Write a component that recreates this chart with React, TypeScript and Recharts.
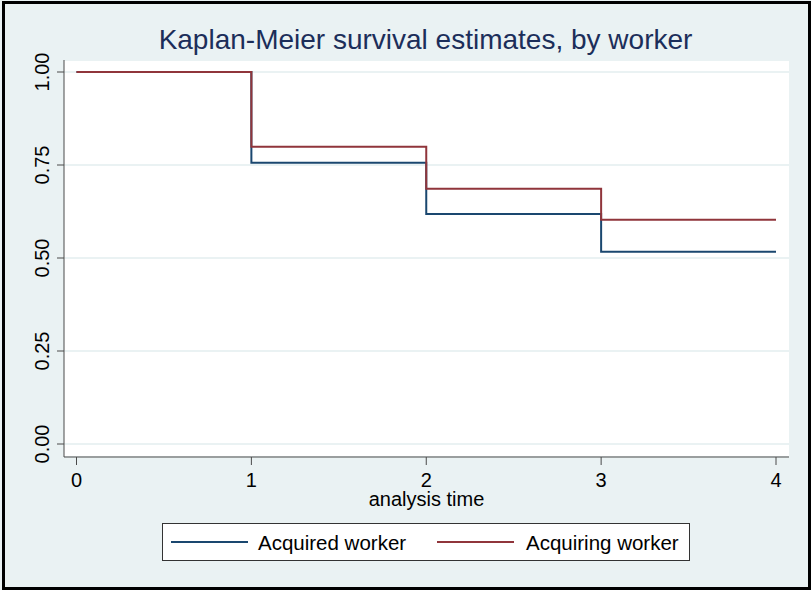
import { LineChart, Line, XAxis, YAxis, CartesianGrid, Legend } from "recharts";

// Kaplan-Meier step estimates
const times = [0, 1, 2, 3, 4];
const acquired = [1, 0.756, 0.618, 0.517, 0.517];
const acquiring = [1, 0.799, 0.686, 0.603, 0.603];

const xTicks = [0, 1, 2, 3, 4];
const yTicks = [0, 0.25, 0.5, 0.75, 1];

const seriesKeys = ["acquired", "acquiring"];
const seriesNames = ["Acquired worker", "Acquiring worker"];
const seriesColors = ["#1a476f", "#90353b"];

const data = times.map((t, i) => ({ t, acquired: acquired[i], acquiring: acquiring[i] }));

const FONT = "'Liberation Sans', Arial, Helvetica, sans-serif";
const BG = "#eaf2f3";
const AXIS = "#4a4a4a";

function YTick({ x, y, payload }: any) {
  return (
    <text
      x={x}
      y={y}
      transform={`rotate(-90 ${x} ${y})`}
      textAnchor="middle"
      fontSize={20}
      fontFamily={FONT}
      fill="#000"
    >
      {Number(payload.value).toFixed(2)}
    </text>
  );
}

function XTick({ x, y, payload }: any) {
  return (
    <text x={x} y={y + 20} textAnchor="middle" fontSize={20} fontFamily={FONT} fill="#000">
      {payload.value}
    </text>
  );
}

function XLabel({ viewBox }: any) {
  return (
    <text
      x={viewBox.x + viewBox.width / 2}
      y={viewBox.y + 49}
      textAnchor="middle"
      fontSize={20}
      fontFamily={FONT}
      fill="#000"
    >
      analysis time
    </text>
  );
}

function LegendBox() {
  return (
    <div
      style={{
        position: "relative",
        width: 528,
        height: 38,
        boxSizing: "border-box",
        border: "1px solid #333",
        background: "#fff",
        fontFamily: FONT,
        fontSize: 20.5,
        color: "#000",
      }}
    >
      {seriesNames.map((name, i) => (
        <div
          key={name}
          style={{
            position: "absolute",
            left: i === 0 ? 8 : 274,
            top: 0,
            height: 36,
            display: "flex",
            alignItems: "center",
            whiteSpace: "nowrap",
          }}
        >
          <span style={{ display: "inline-block", width: 77, height: 2, background: seriesColors[i] }} />
          <span style={{ marginLeft: i === 0 ? 10 : 12, lineHeight: "20px", position: "relative", top: 1 }}>
            {name}
          </span>
        </div>
      ))}
    </div>
  );
}

export default function App() {
  return (
    <div style={{ position: "absolute", left: 0, top: 0, width: 811, height: 590, background: BG }}>
      <div
        style={{
          position: "absolute",
          left: 2,
          top: 1,
          width: 809,
          height: 589,
          boxSizing: "border-box",
          border: "3px solid #000",
        }}
      />
      <div
        style={{
          position: "absolute",
          left: 0,
          width: 851,
          top: 26,
          textAlign: "center",
          fontFamily: FONT,
          fontSize: 28,
          lineHeight: "28px",
          color: "#1c2e5a",
          whiteSpace: "nowrap",
        }}
      >
        Kaplan-Meier survival estimates, by worker
      </div>
      <div style={{ position: "absolute", left: 0, top: 0 }}>
        <LineChart width={811} height={590} data={data} margin={{ top: 60, right: 22, bottom: 103, left: 4 }}>
          <CartesianGrid horizontal vertical={false} stroke={BG} strokeWidth={2} fill="#fff" />
          <XAxis
            dataKey="t"
            type="number"
            domain={[0, 4]}
            ticks={xTicks}
            padding={{ left: 12.5, right: 13 }}
            height={30}
            tickSize={8}
            tickMargin={2}
            tick={<XTick />}
            axisLine={{ stroke: AXIS }}
            tickLine={{ stroke: AXIS }}
            label={<XLabel />}
          />
          <YAxis
            type="number"
            domain={[0, 1]}
            ticks={yTicks}
            padding={{ top: 12, bottom: 13 }}
            width={60}
            tickSize={7}
            tickMargin={8}
            tick={<YTick />}
            axisLine={{ stroke: AXIS }}
            tickLine={{ stroke: AXIS }}
          />
          {seriesKeys.map((k, i) => (
            <Line
              key={k}
              type="stepAfter"
              dataKey={k}
              name={seriesNames[i]}
              stroke={seriesColors[i]}
              strokeWidth={2}
              dot={false}
              activeDot={false}
              isAnimationActive={false}
            />
          ))}
          <Legend
            layout="horizontal"
            verticalAlign="middle"
            align="center"
            content={<LegendBox />}
            wrapperStyle={{ left: 162, top: 523, width: 528, height: 38 }}
          />
        </LineChart>
      </div>
    </div>
  );
}
